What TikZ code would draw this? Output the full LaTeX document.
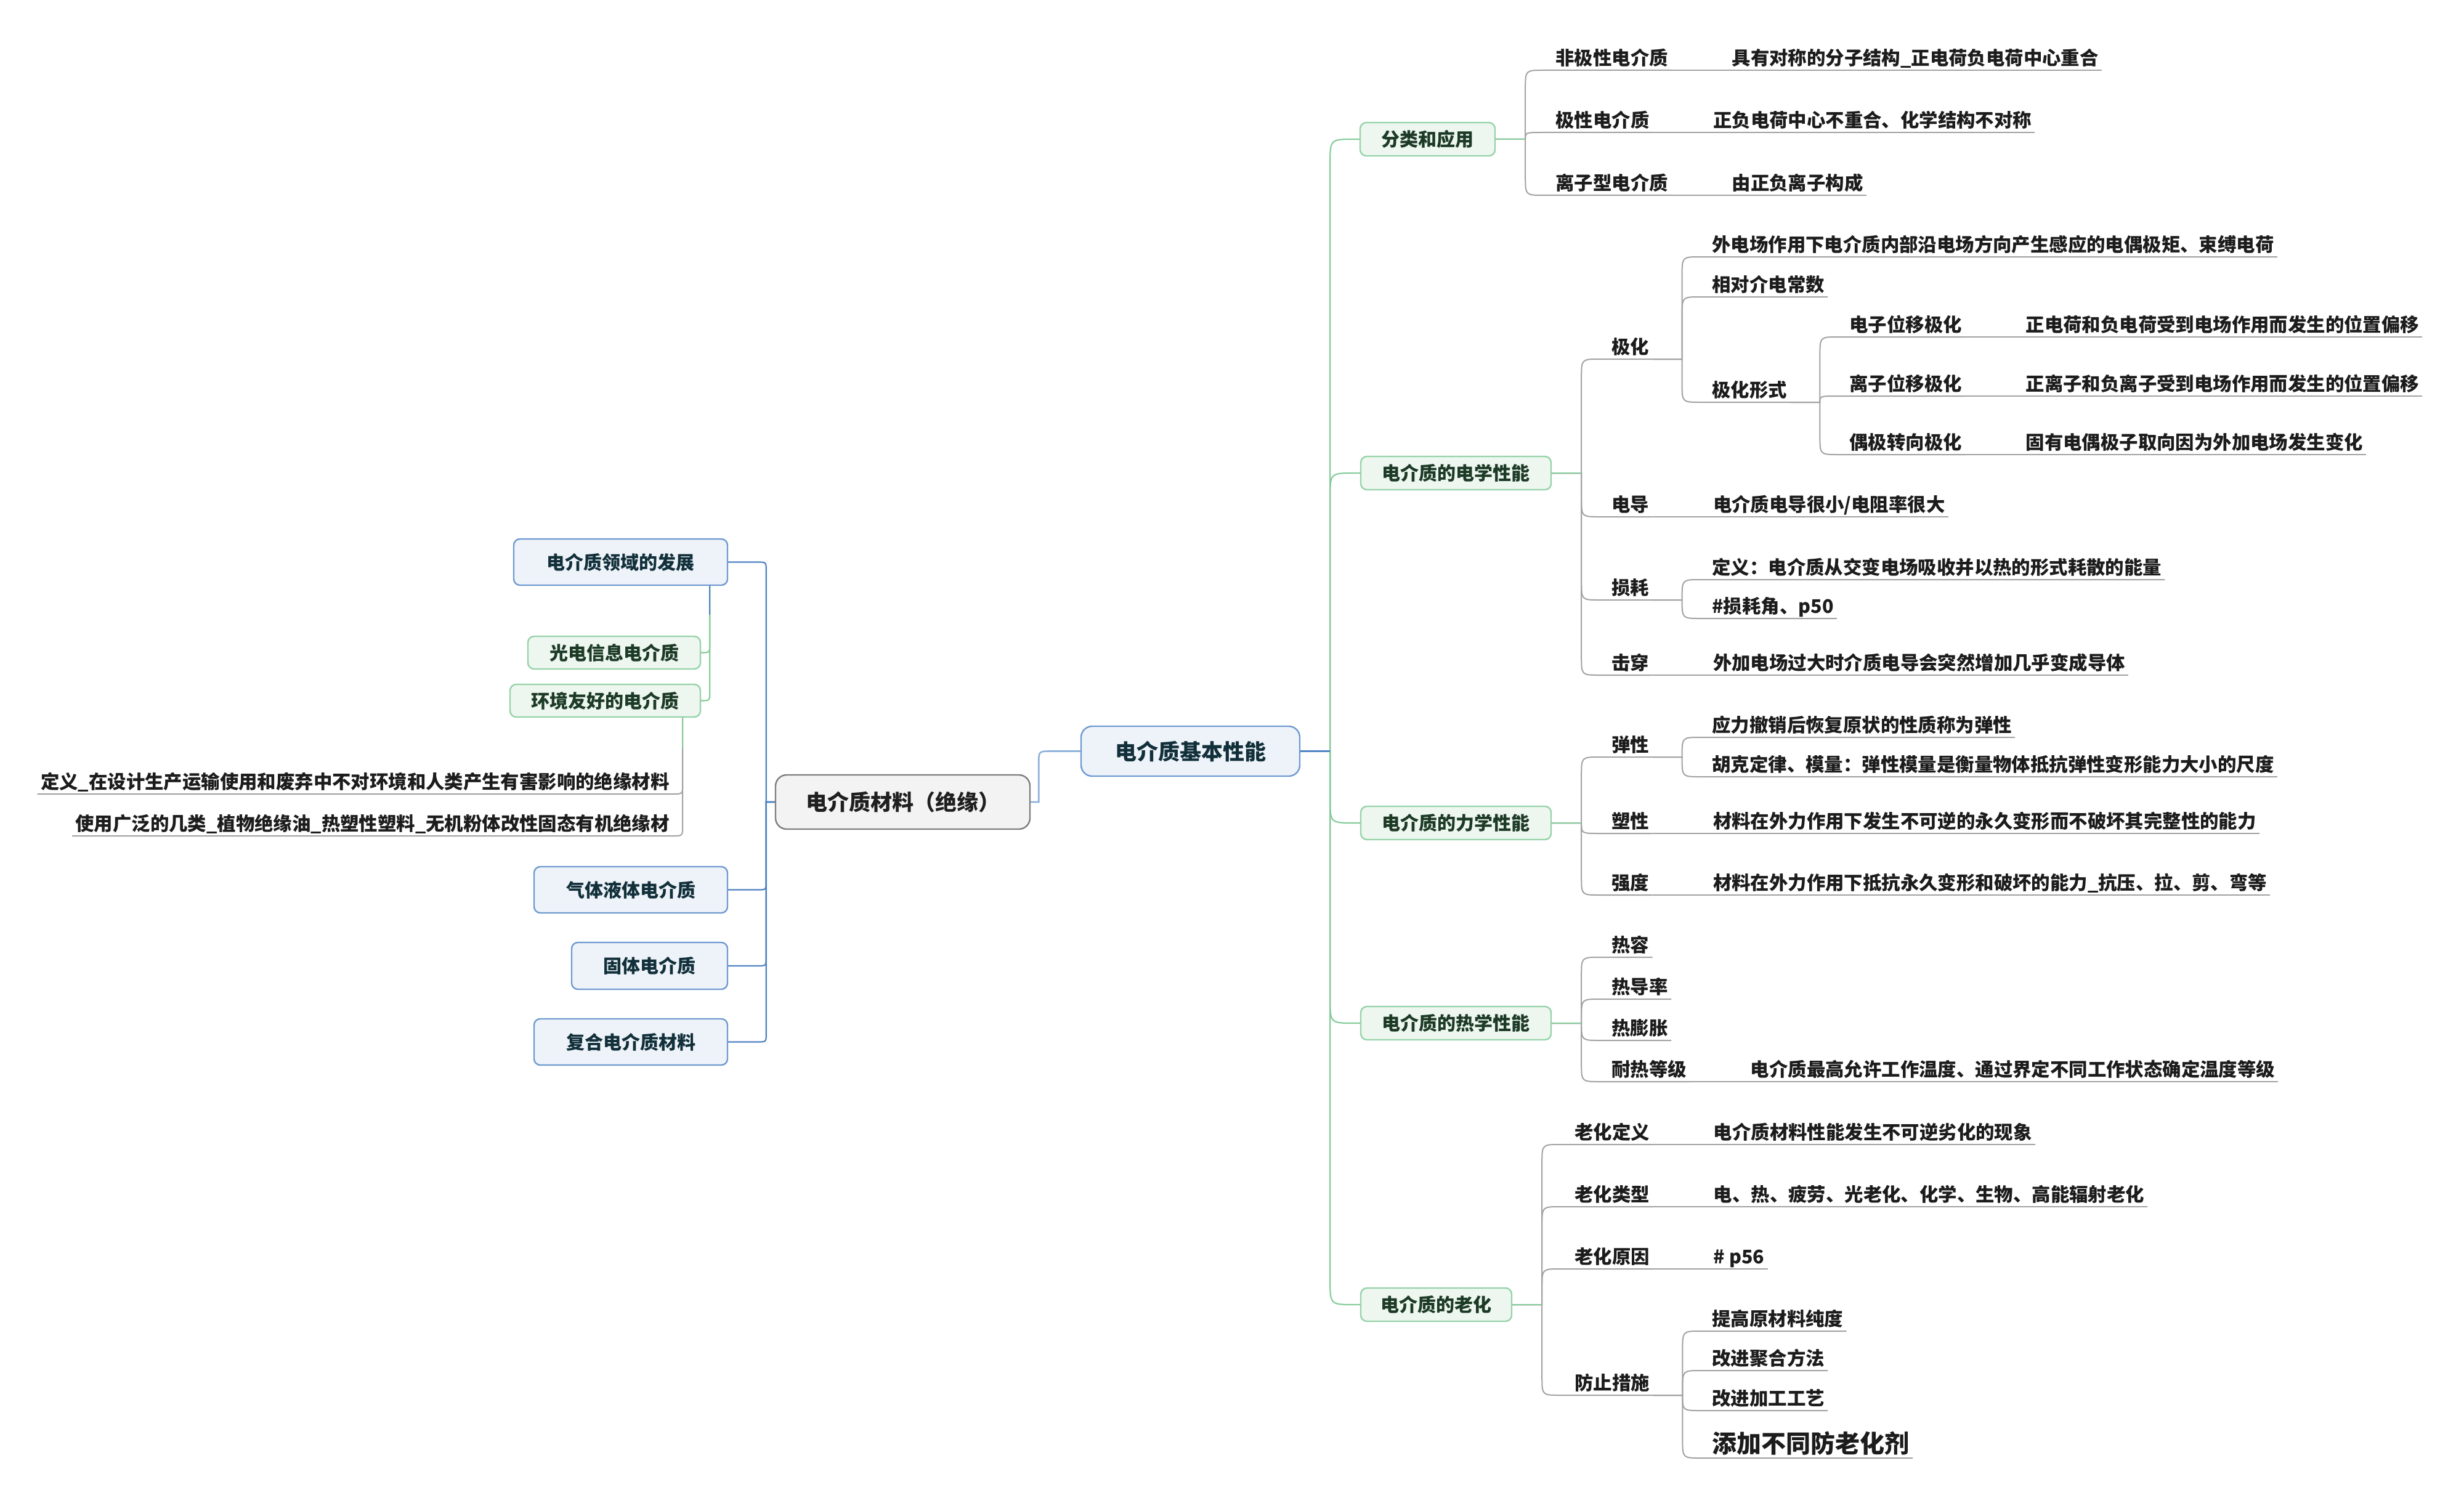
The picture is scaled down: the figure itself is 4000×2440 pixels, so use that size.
\documentclass[tikz,border=0pt]{standalone}
\usepackage{fontspec}
\setmainfont{Noto Sans CJK SC}
\usetikzlibrary{calc}

\definecolor{bfill}{HTML}{EEF3FA}
\definecolor{bbord}{HTML}{6F9AD0}
\definecolor{btext}{HTML}{12303A}
\definecolor{gfill}{HTML}{EDF6EF}
\definecolor{gbord}{HTML}{96D3A9}
\definecolor{gtext}{HTML}{1C3A25}
\definecolor{rfill}{HTML}{F3F3F3}
\definecolor{rbord}{HTML}{7E7E7E}
\definecolor{leafc}{HTML}{1C1C1C}
\definecolor{greyc}{HTML}{A2A2A2}
\definecolor{greenc}{HTML}{86CC9C}
\definecolor{bluec}{HTML}{4F82C2}
\definecolor{lbluec}{HTML}{8EB1DB}

\newcommand\pxfont[1]{\fontsize{#1}{#1}\selectfont\bfseries}

\begin{document}
\begin{tikzpicture}[x=0.5pt,y=-0.5pt,
  % horizontal stub of #1, vertical run, then a rounded turn of radius #2 towards the target
  brR/.style 2 args={to path={let \p1=(\tikztostart), \p2=(\tikztotarget),
      \n1={\y2-\y1}, \n2={max(-#2,min(#2,\n1))} in
      -- ({\x1+#1},\y1) -- ({\x1+#1},{\y2-(\n2)})
      .. controls ({\x1+#1},\y2) .. ({\x1+#1+#2},\y2) -- (\tikztotarget)}},
  brL/.style 2 args={to path={let \p1=(\tikztostart), \p2=(\tikztotarget),
      \n1={\y2-\y1}, \n2={max(-#2,min(#2,\n1))} in
      -- ({\x1-#1},\y1) -- ({\x1-#1},{\y2-(\n2)})
      .. controls ({\x1-#1},\y2) .. ({\x1-#1-#2},\y2) -- (\tikztotarget)}},
  % straight down from the start, then a rounded turn to the left
  brV/.style={to path={let \p1=(\tikztostart), \p2=(\tikztotarget) in
      -- (\x1,{\y2+#1}) .. controls (\x1,\y2) .. ({\x1-#1},\y2) -- (\tikztotarget)}},
  mmbox/.style={rounded corners=5pt, line width=1.2pt, inner sep=0pt, font=\pxfont{15pt}},
  bbox/.style={mmbox, draw=bbord, fill=bfill, text=btext},
  gbox/.style={mmbox, draw=gbord, fill=gfill, text=gtext},
  rbox/.style={mmbox, rounded corners=9pt, draw=rbord, fill=rfill, text=black!88, font=\pxfont{17.5pt}},
  leaf/.style={anchor=south west, inner xsep=2.5pt, inner ysep=4pt, text depth=0pt, text=leafc, font=\pxfont{15.2pt}},
  leafl/.style={leaf, anchor=south east},
  conn/.style={line width=1pt, draw=greyc},
  gconn/.style={line width=1.1pt, draw=greenc},
  bconn/.style={line width=1.1pt, draw=bluec},
  lbconn/.style={line width=1.3pt, draw=lbluec},
]
\fill[white] (0,0) rectangle (4000,2440);
\useasboundingbox (0,0) rectangle (4000,2440);

% ---------- centre ----------
\node[rbox, minimum width=206.5pt, minimum height=44pt] (root) at (1465.5,1302) {电介质材料（绝缘）};
\node[bbox, rounded corners=9pt, font=\pxfont{17.5pt}, minimum width=177.5pt, minimum height=40.5pt] (core) at (1932.5,1219.5) {电介质基本性能};

% ---------- left branch ----------
\node[bbox, minimum width=173.5pt, minimum height=37.5pt] (devl) at (1007.5,912.5) {电介质领域的发展};
\node[gbox, minimum width=140pt, minimum height=26.5pt] (opto) at (997,1059.5) {光电信息电介质};
\node[gbox, minimum width=154.5pt, minimum height=26.5pt] (eco) at (982.5,1137.5) {环境友好的电介质};
\node[leafl] (ecodef) at (1092,1289) {定义\_在设计生产运输使用和废弃中不对环境和人类产生有害影响的绝缘材料};
\node[leafl] (ecouse) at (1092,1357) {使用广泛的几类\_植物绝缘油\_热塑性塑料\_无机粉体改性固态有机绝缘材};
\node[bbox, minimum width=157pt, minimum height=37.5pt] (gasliq) at (1024,1444.5) {气体液体电介质};
\node[bbox, minimum width=126.5pt, minimum height=38pt] (solid) at (1054.5,1568) {固体电介质};
\node[bbox, minimum width=157pt, minimum height=37.5pt] (comp) at (1024,1691.5) {复合电介质材料};

% ---------- right branch: categories ----------
\node[gbox, minimum width=109.5pt, minimum height=27pt] (cls) at (2317.5,226) {分类和应用};
\node[gbox, minimum width=154.5pt, minimum height=27pt] (elec) at (2363.5,768) {电介质的电学性能};
\node[gbox, minimum width=154.5pt, minimum height=27pt] (mech) at (2363.5,1336) {电介质的力学性能};
\node[gbox, minimum width=154.5pt, minimum height=27pt] (therm) at (2363.5,1661) {电介质的热学性能};
\node[gbox, minimum width=122.5pt, minimum height=27pt] (aging) at (2331.5,2118) {电介质的老化};

% classification
\node[leaf] (a1) at (2520,114) {非极性电介质};
\node[leaf] (a1c) at ([xshift=46.5pt]a1.south east) {具有对称的分子结构\_正电荷负电荷中心重合};
\node[leaf] (a2) at (2520,215) {极性电介质};
\node[leaf] (a2c) at ([xshift=46.5pt]a2.south east) {正负电荷中心不重合、化学结构不对称};
\node[leaf] (a3) at (2520,317) {离子型电介质};
\node[leaf] (a3c) at ([xshift=46.5pt]a3.south east) {由正负离子构成};

% electrical properties
\node[leaf] (b1) at (2611,583) {极化};
\node[leaf] (b11) at (2774,417) {外电场作用下电介质内部沿电场方向产生感应的电偶极矩、束缚电荷};
\node[leaf] (b12) at (2774,482) {相对介电常数};
\node[leaf] (b13) at (2774,653) {极化形式};
\node[leaf] (b131) at (2997,547) {电子位移极化};
\node[leaf] (b131c) at ([xshift=46.5pt]b131.south east) {正电荷和负电荷受到电场作用而发生的位置偏移};
\node[leaf] (b132) at (2997,643) {离子位移极化};
\node[leaf] (b132c) at ([xshift=46.5pt]b132.south east) {正离子和负离子受到电场作用而发生的位置偏移};
\node[leaf] (b133) at (2997,738) {偶极转向极化};
\node[leaf] (b133c) at ([xshift=46.5pt]b133.south east) {固有电偶极子取向因为外加电场发生变化};
\node[leaf] (b2) at (2611,839) {电导};
\node[leaf] (b2c) at ([xshift=46.5pt]b2.south east) {电介质电导很小/电阻率很大};
\node[leaf] (b3) at (2611,974) {损耗};
\node[leaf] (b31) at (2774,941) {定义：电介质从交变电场吸收并以热的形式耗散的能量};
\node[leaf] (b32) at (2774,1004) {\#损耗角、p50};
\node[leaf] (b4) at (2611,1096) {击穿};
\node[leaf] (b4c) at ([xshift=46.5pt]b4.south east) {外加电场过大时介质电导会突然增加几乎变成导体};

% mechanical properties
\node[leaf] (c1) at (2611,1229) {弹性};
\node[leaf] (c11) at (2774,1197) {应力撤销后恢复原状的性质称为弹性};
\node[leaf] (c12) at (2774,1261) {胡克定律、模量：弹性模量是衡量物体抵抗弹性变形能力大小的尺度};
\node[leaf] (c2) at (2611,1353) {塑性};
\node[leaf] (c2c) at ([xshift=46.5pt]c2.south east) {材料在外力作用下发生不可逆的永久变形而不破坏其完整性的能力};
\node[leaf] (c3) at (2611,1453) {强度};
\node[leaf] (c3c) at ([xshift=46.5pt]c3.south east) {材料在外力作用下抵抗永久变形和破坏的能力\_抗压、拉、剪、弯等};

% thermal properties
\node[leaf] (d1) at (2611,1554) {热容};
\node[leaf] (d2) at (2611,1622) {热导率};
\node[leaf] (d3) at (2611,1689) {热膨胀};
\node[leaf] (d4) at (2611,1756) {耐热等级};
\node[leaf] (d4c) at ([xshift=46.5pt]d4.south east) {电介质最高允许工作温度、通过界定不同工作状态确定温度等级};

% ageing
\node[leaf] (e1) at (2551,1858) {老化定义};
\node[leaf] (e1c) at ([xshift=46.5pt]e1.south east) {电介质材料性能发生不可逆劣化的现象};
\node[leaf] (e2) at (2551,1959) {老化类型};
\node[leaf] (e2c) at ([xshift=46.5pt]e2.south east) {电、热、疲劳、光老化、化学、生物、高能辐射老化};
\node[leaf] (e3) at (2551,2060) {老化原因};
\node[leaf] (e3c) at ([xshift=46.5pt]e3.south east) {\# p56};
\node[leaf] (e4) at (2551,2265) {防止措施};
\node[leaf] (e41) at (2774,2161) {提高原材料纯度};
\node[leaf] (e42) at (2774,2225) {改进聚合方法};
\node[leaf] (e43) at (2774,2290) {改进加工工艺};
\node[leaf, font=\pxfont{20pt}] (e44) at (2774,2367) {添加不同防老化剂};

% ---------- connectors ----------
\draw[lbconn] (root.east) to[brR={6.5pt}{10pt}] (core.west);
\foreach \nd in {devl,gasliq,solid,comp}
  \draw[bconn] (root.west) to[brL={7pt}{7pt}] (\nd.east);

\draw[gconn] ([xshift=-15pt]devl.south east) to[brV=7pt] (opto.east);
\draw[gconn] ([xshift=-15pt]devl.south east) to[brV=7pt] (eco.east);
\draw[bconn] ([xshift=-15pt]devl.south east) -- ++(0,47);
\draw[conn] ([xshift=-15pt]eco.south east) to[brV=8pt] (ecodef.south west);
\draw[conn] ([xshift=-15pt]eco.south east) to[brV=8pt] (ecouse.south west);
\draw[gconn] ([xshift=-15pt]eco.south east) -- ++(0,50);

\foreach \nd in {cls,elec,mech,therm,aging}
  \draw[gconn] (core.east) to[brR={24pt}{20pt}] (\nd.west);
\draw[bconn] (core.east) -- ++(48,0);

% category -> first level
\foreach \nd in {a1,a2,a3} \draw[conn] (cls.east) to[brR={24pt}{15pt}] (\nd.south east);
\foreach \nd in {b1,b2,b3,b4} \draw[conn] (elec.east) to[brR={24pt}{15pt}] (\nd.south east);
\foreach \nd in {c1,c2,c3} \draw[conn] (mech.east) to[brR={24pt}{15pt}] (\nd.south east);
\foreach \nd in {d1,d2,d3,d4} \draw[conn] (therm.east) to[brR={24pt}{15pt}] (\nd.south east);
\foreach \nd in {e1,e2,e3,e4} \draw[conn] (aging.east) to[brR={24pt}{15pt}] (\nd.south east);
\foreach \nd in {cls,elec,mech,therm,aging} \draw[gconn] (\nd.east) -- ++(48,0);

% deeper levels
\draw[conn] (a1.south east) to[brR={24pt}{15pt}] (a1c.south east);
\draw[conn] (a2.south east) to[brR={24pt}{15pt}] (a2c.south east);
\draw[conn] (a3.south east) to[brR={24pt}{15pt}] (a3c.south east);
\foreach \nd in {b11,b12,b13} \draw[conn] (b1.south east) to[brR={24pt}{15pt}] (\nd.south east);
\foreach \nd in {b131,b132,b133} \draw[conn] (b13.south east) to[brR={24pt}{15pt}] (\nd.south east);
\draw[conn] (b131.south east) to[brR={24pt}{15pt}] (b131c.south east);
\draw[conn] (b132.south east) to[brR={24pt}{15pt}] (b132c.south east);
\draw[conn] (b133.south east) to[brR={24pt}{15pt}] (b133c.south east);
\draw[conn] (b2.south east) to[brR={24pt}{15pt}] (b2c.south east);
\foreach \nd in {b31,b32} \draw[conn] (b3.south east) to[brR={24pt}{15pt}] (\nd.south east);
\draw[conn] (b4.south east) to[brR={24pt}{15pt}] (b4c.south east);
\foreach \nd in {c11,c12} \draw[conn] (c1.south east) to[brR={24pt}{15pt}] (\nd.south east);
\draw[conn] (c2.south east) to[brR={24pt}{15pt}] (c2c.south east);
\draw[conn] (c3.south east) to[brR={24pt}{15pt}] (c3c.south east);
\draw[conn] (d4.south east) to[brR={24pt}{15pt}] (d4c.south east);
\draw[conn] (e1.south east) to[brR={24pt}{15pt}] (e1c.south east);
\draw[conn] (e2.south east) to[brR={24pt}{15pt}] (e2c.south east);
\draw[conn] (e3.south east) to[brR={24pt}{15pt}] (e3c.south east);
\foreach \nd in {e41,e42,e43,e44} \draw[conn] (e4.south east) to[brR={24pt}{15pt}] (\nd.south east);
\end{tikzpicture}
\end{document}
